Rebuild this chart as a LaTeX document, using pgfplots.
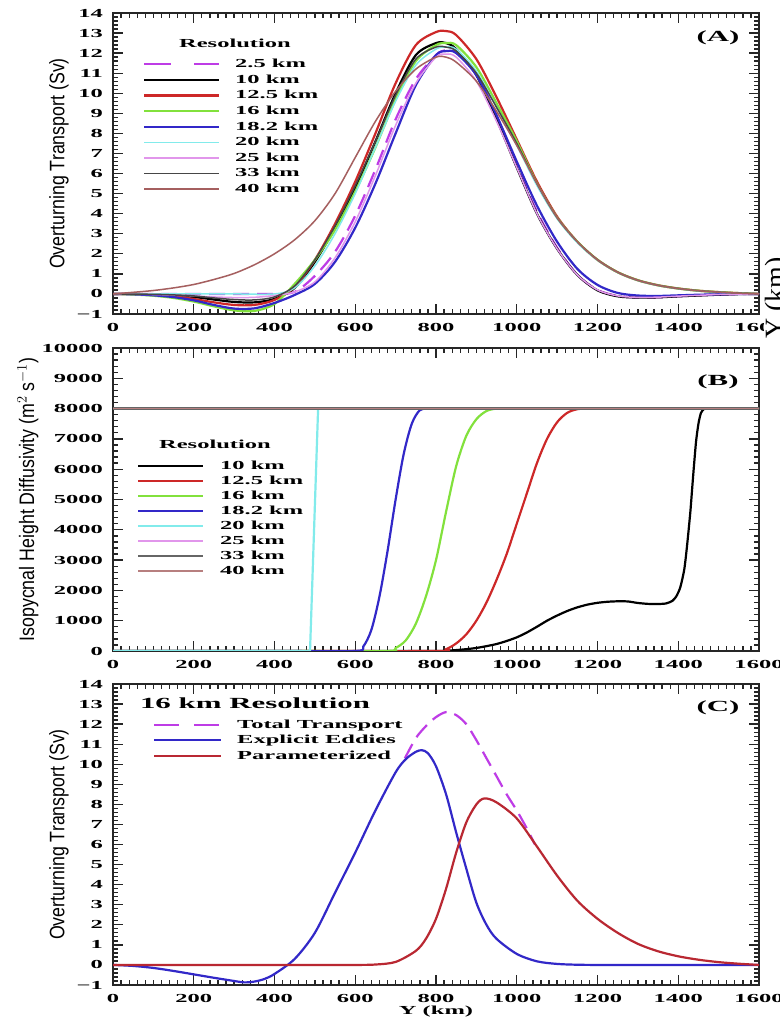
\documentclass[border=0pt]{standalone}
\usepackage{fontspec}
\usepackage{pgfplots}
\pgfplotsset{compat=1.18}
\newfontfamily\hfont[FakeStretch=2.0]{Liberation Serif}
\newfontfamily\lfont[FakeStretch=0.85]{Liberation Sans}
\newfontfamily\rfont{Liberation Serif}

\definecolor{cmag}{RGB}{190,60,230}
\definecolor{cred}{RGB}{205,40,40}
\definecolor{cgreen}{RGB}{130,225,60}
\definecolor{cblue}{RGB}{50,40,200}
\definecolor{ccyan}{RGB}{130,235,235}
\definecolor{cpink}{RGB}{225,150,235}
\definecolor{cdark}{RGB}{70,70,70}
\definecolor{cbrown}{RGB}{165,95,95}
\definecolor{cpred}{RGB}{185,40,50}

\pgfplotsset{
  myaxis/.style={
    scale only axis, width=646bp, anchor=south west,
    xmin=0, xmax=1600, xtick={0,200,...,1600}, minor x tick num=9,
    scaled y ticks=false, scaled x ticks=false,
    axis line style={line width=1.2bp, black!85},
    /pgf/number format/assume math mode=true,
    /pgf/number format/1000 sep={},
    tick label style={font=\hfont\bfseries\fontsize{12.3}{13}\selectfont, inner sep=0pt},
    xticklabel style={anchor=center, yshift=-13bp},
    yticklabel style={anchor=east, xshift=-10bp},
    ylabel style={font=\lfont\fontsize{21}{21}\selectfont, anchor=center},
    legend cell align=left,
    legend style={draw=none, fill=none, inner sep=0pt, outer sep=0pt, anchor=north west,
      font=\hfont\bfseries\fontsize{12.3}{12}\selectfont,
      nodes={inner sep=0pt, text height=8bp, text depth=1bp}},
    major tick length=10bp, minor tick length=5bp,
    every tick/.append style={line width=1.3bp, black!85},
    tick align=inside,
  },
  thk/.style={line width=2.2bp},
  thn/.style={line width=1.5bp},
}

\begin{document}
\begin{tikzpicture}
\useasboundingbox (0bp,0bp) rectangle (780bp,1021bp);
\fill[white] (0bp,0bp) rectangle (780bp,1021bp);

% ---------------- Panel A ----------------
\begin{axis}[myaxis, at={(113bp,707bp)}, height=301bp,
  ymin=-1, ymax=14, ytick={-1,0,...,14},
  yticklabels={−1,0,1,2,3,4,5,6,7,8,9,10,11,12,13,14},
  minor y tick num=4,
  ylabel={Overturning Transport (Sv)},
  ylabel style={at={(axis description cs:-0.0836,0.5)}},
  legend style={at={(0.0464,0.8445)}, row sep=6.6bp, column sep=15bp},
  legend image code/.code={\draw[#1] (0bp,0bp) -- (75bp,0bp);},
]
\addplot[cmag, thk, smooth, dash pattern=on 16bp off 8bp,
  legend image code/.code={\draw[cmag, line width=2.2bp, dash pattern=on 27bp off 23bp] (0bp,0bp) -- (75bp,0bp);}]
  coordinates {(0,0)(50,0)(100,0)(150,0)(200,0)(250,0)(300,0)(350,0)(400,0)(450,0.1)(500,0.9)(550,2.1)(600,3.9)(650,6.2)(700,8.7)(750,10.7)(800,11.9)(825,12.15)(850,12.1)(900,11.0)(950,8.9)(1000,6.4)(1050,4.1)(1100,2.3)(1150,0.95)(1200,0.2)(1250,-0.1)(1300,-0.18)(1350,-0.17)(1400,-0.12)(1450,-0.07)(1500,-0.03)(1550,-0.01)(1600,0)};
\addlegendentry{2.5 km}
\addplot[black, thk, smooth]
  coordinates {(0,0)(50,0)(100,-0.03)(150,-0.08)(200,-0.15)(250,-0.28)(300,-0.4)(350,-0.42)(400,-0.25)(450,0.3)(500,1.6)(550,3.3)(600,5.3)(650,7.6)(700,10.0)(750,11.9)(800,12.5)(825,12.5)(850,12.2)(900,10.9)(950,8.7)(1000,6.3)(1050,4.0)(1100,2.25)(1150,0.95)(1200,0.18)(1250,-0.12)(1300,-0.18)(1350,-0.17)(1400,-0.12)(1450,-0.08)(1500,-0.04)(1550,-0.01)(1600,0)};
\addlegendentry{10 km}
\addplot[cred, thk, smooth]
  coordinates {(0,0)(50,-0.01)(100,-0.05)(150,-0.12)(200,-0.25)(250,-0.42)(300,-0.55)(350,-0.55)(400,-0.3)(450,0.35)(500,1.7)(550,3.5)(600,5.6)(650,8.0)(700,10.5)(750,12.4)(800,13.05)(825,13.1)(850,12.9)(900,11.7)(950,9.8)(1000,7.7)(1050,5.6)(1100,3.85)(1150,2.6)(1200,1.7)(1250,1.08)(1300,0.68)(1350,0.43)(1400,0.27)(1450,0.16)(1500,0.09)(1550,0.04)(1600,0)};
\addlegendentry{12.5 km}
\addplot[cgreen, thk, smooth]
  coordinates {(0,0)(50,-0.03)(100,-0.09)(150,-0.2)(200,-0.38)(250,-0.62)(300,-0.82)(350,-0.85)(400,-0.5)(450,0.5)(500,1.7)(550,3.2)(600,5.1)(650,7.3)(700,9.7)(750,11.6)(800,12.4)(825,12.5)(850,12.4)(900,11.3)(950,9.5)(1000,7.6)(1050,5.5)(1100,3.8)(1150,2.6)(1200,1.7)(1250,1.08)(1300,0.68)(1350,0.43)(1400,0.27)(1450,0.16)(1500,0.09)(1550,0.04)(1600,0)};
\addlegendentry{16 km}
\addplot[cblue, thk, smooth]
  coordinates {(0,0)(50,-0.02)(100,-0.07)(150,-0.16)(200,-0.32)(250,-0.55)(300,-0.73)(350,-0.72)(400,-0.45)(450,-0.05)(500,0.5)(550,1.6)(600,3.3)(650,5.5)(700,8.0)(750,10.4)(800,11.9)(825,12.1)(850,12.0)(900,10.9)(950,8.9)(1000,6.6)(1050,4.4)(1100,2.6)(1150,1.25)(1200,0.45)(1250,0.05)(1300,-0.08)(1350,-0.1)(1400,-0.07)(1450,-0.04)(1500,-0.02)(1550,0)(1600,0)};
\addlegendentry{18.2 km}
\addplot[ccyan, thn, smooth]
  coordinates {(0,0)(100,0)(200,0)(300,0)(400,0)(450,0.3)(500,1.4)(550,3.0)(600,5.0)(650,7.3)(700,9.6)(750,11.4)(800,12.2)(825,12.3)(850,12.2)(900,11.1)(950,9.3)(1000,7.4)(1050,5.4)(1100,3.75)(1150,2.55)(1200,1.68)(1250,1.07)(1300,0.67)(1350,0.42)(1400,0.26)(1450,0.15)(1500,0.08)(1550,0.03)(1600,0)};
\addlegendentry{20 km}
\addplot[cpink, thn, smooth]
  coordinates {(0,0)(100,-0.03)(150,-0.06)(200,-0.1)(250,-0.15)(300,-0.18)(350,-0.17)(400,-0.08)(450,0.1)(500,0.6)(550,1.8)(600,3.6)(650,5.9)(700,8.4)(750,10.5)(800,11.8)(825,11.95)(850,11.8)(900,10.6)(950,8.6)(1000,6.3)(1050,4.0)(1100,2.25)(1150,0.95)(1200,0.2)(1250,-0.1)(1300,-0.17)(1350,-0.16)(1400,-0.11)(1450,-0.07)(1500,-0.03)(1550,-0.01)(1600,0)};
\addlegendentry{25 km}
\addplot[cdark, thn, smooth]
  coordinates {(0,0)(100,-0.02)(150,-0.05)(200,-0.1)(250,-0.2)(300,-0.28)(350,-0.3)(400,-0.15)(450,0.4)(500,1.7)(550,3.4)(600,5.4)(650,7.6)(700,9.9)(750,11.7)(800,12.3)(825,12.3)(850,12.1)(900,11.0)(950,9.3)(1000,7.5)(1050,5.5)(1100,3.8)(1150,2.6)(1200,1.7)(1250,1.08)(1300,0.68)(1350,0.43)(1400,0.27)(1450,0.16)(1500,0.09)(1550,0.04)(1600,0)};
\addlegendentry{33 km}
\addplot[cbrown, thn, smooth]
  coordinates {(0,0)(50,0.08)(100,0.17)(150,0.3)(200,0.47)(250,0.72)(300,1.02)(350,1.45)(400,2.0)(450,2.7)(500,3.65)(550,5.0)(600,6.8)(650,8.6)(700,10.1)(750,11.2)(800,11.8)(825,11.8)(850,11.55)(900,10.6)(950,9.1)(1000,7.4)(1050,5.5)(1100,3.8)(1150,2.6)(1200,1.7)(1250,1.08)(1300,0.68)(1350,0.43)(1400,0.27)(1450,0.16)(1500,0.09)(1550,0.04)(1600,0)};
\addlegendentry{40 km}
\end{axis}

% ---------------- Panel B ----------------
\begin{axis}[myaxis, at={(113bp,370bp)}, height=303bp,
  ymin=0, ymax=10000, ytick={0,1000,...,10000},
  minor y tick num=4,
  ylabel={Isopycnal Height Diffusivity (m$^{2}$ s$^{-1}$)},
  ylabel style={at={(axis description cs:-0.1316,0.5)}},
  legend style={at={(0.0372,0.6254)}, row sep=6bp, column sep=16bp},
  legend image code/.code={\draw[#1] (0bp,0bp) -- (65bp,0bp);},
]
\addplot[black, thk, smooth, tension=0.4]
  coordinates {(0,0)(400,0)(800,0)(825,10)(850,30)(875,60)(900,100)(925,160)(950,230)(975,330)(1000,450)(1025,610)(1050,800)(1075,1000)(1100,1170)(1125,1320)(1150,1440)(1175,1530)(1200,1590)(1225,1625)(1250,1640)(1275,1635)(1300,1585)(1325,1555)(1350,1550)(1370,1570)(1385,1650)(1395,1800)(1405,2100)(1415,2700)(1422,3500)(1430,4600)(1437,5800)(1444,6900)(1450,7500)(1456,7850)(1463,7980)(1470,8000)(1500,8000)(1600,8000)};
\addlegendentry{10 km}
\addplot[cred, thk, smooth]
  coordinates {(0,0)(400,0)(800,0)(825,60)(850,250)(875,550)(900,1000)(925,1600)(950,2350)(975,3200)(1000,4200)(1025,5200)(1050,6200)(1075,7000)(1100,7550)(1125,7860)(1150,7980)(1175,8000)(1200,8000)(1600,8000)};
\addlegendentry{12.5 km}
\addplot[cgreen, thk, smooth]
  coordinates {(0,0)(400,0)(675,0)(700,100)(725,350)(750,900)(775,1800)(800,3000)(825,4600)(850,6100)(875,7100)(900,7650)(925,7920)(950,8000)(975,8000)(1600,8000)};
\addlegendentry{16 km}
\addplot[cblue, thk, smooth]
  coordinates {(0,0)(400,0)(600,0)(620,150)(640,700)(660,1800)(680,3300)(700,5000)(720,6500)(740,7500)(760,7950)(780,8000)(800,8000)(1600,8000)};
\addlegendentry{18.2 km}
\addplot[ccyan, thk]
  coordinates {(0,0)(488,0)(498,4000)(508,8000)(1600,8000)};
\addlegendentry{20 km}
\addplot[cpink, thk]
  coordinates {(0,8000)(1600,8000)};
\addlegendentry{25 km}
\addplot[black!60, thk]
  coordinates {(0,8000)(1600,8000)};
\addlegendentry{33 km}
\addplot[cbrown!80, thn]
  coordinates {(0,8000)(1600,8000)};
\addlegendentry{40 km}
\end{axis}

% ---------------- Panel C ----------------
\begin{axis}[myaxis, at={(113bp,36bp)}, height=301bp,
  ymin=-1, ymax=14, ytick={-1,0,...,14},
  yticklabels={−1,0,1,2,3,4,5,6,7,8,9,10,11,12,13,14},
  minor y tick num=4,
  ylabel={Overturning Transport (Sv)},
  ylabel style={at={(axis description cs:-0.0836,0.5)}},
  xlabel={Y (km)},
  xlabel style={at={(axis description cs:0.5,-0.0897)}, anchor=center, font=\hfont\bfseries\fontsize{12.3}{12}\selectfont},
  legend style={at={(0.0619,0.880)}, row sep=6.5bp, column sep=15bp},
  legend image code/.code={\draw[#1] (0bp,0bp) -- (67bp,0bp);},
]
\addplot[cmag, thk, smooth, dash pattern=on 16bp off 8bp,
  legend image code/.code={\draw[cmag, line width=2.2bp, dash pattern=on 25bp off 15bp] (0bp,0bp) -- (67bp,0bp);}]
  coordinates {(723,10.3)(750,11.3)(775,11.9)(800,12.35)(825,12.6)(850,12.45)(875,12.0)(900,11.2)(925,10.3)(950,9.4)(975,8.5)(1000,7.7)(1025,6.8)(1045,6.0)};
\addlegendentry{Total Transport}
\addplot[cblue, thk, smooth]
  coordinates {(0,0)(50,-0.05)(100,-0.15)(150,-0.3)(200,-0.47)(250,-0.64)(300,-0.8)(325,-0.87)(350,-0.83)(375,-0.7)(400,-0.45)(450,0.3)(500,1.6)(550,3.6)(600,5.6)(650,7.7)(700,9.6)(725,10.25)(750,10.62)(765,10.7)(780,10.55)(800,9.9)(825,8.5)(850,6.6)(875,4.8)(900,3.1)(925,2.0)(950,1.3)(1000,0.55)(1050,0.18)(1100,0.05)(1150,0.01)(1200,0)(1300,0)(1400,0)(1500,0)(1600,0)};
\addlegendentry{Explicit Eddies}
\addplot[cpred, thk, smooth]
  coordinates {(0,0)(100,0)(200,0)(300,0)(400,0)(500,0)(600,0)(650,0.02)(700,0.15)(750,0.7)(775,1.3)(800,2.3)(825,3.8)(850,5.6)(875,7.1)(900,8.0)(920,8.3)(950,8.1)(1000,7.3)(1050,5.9)(1100,4.45)(1150,3.2)(1200,2.3)(1250,1.6)(1300,1.05)(1350,0.68)(1400,0.43)(1450,0.26)(1500,0.14)(1550,0.06)(1600,0)};
\addlegendentry{Parameterized}
\end{axis}

% titles and panel letters
\node[font=\hfont\bfseries\fontsize{12.3}{12}\selectfont] at (235bp,978bp) {Resolution};
\node[font=\hfont\bfseries\fontsize{12.3}{12}\selectfont] at (215bp,577bp) {Resolution};
\node[font=\hfont\bfseries\fontsize{15.5}{16}\selectfont] at (255bp,318bp) {16 km Resolution};
\node[font=\hfont\bfseries\fontsize{15.5}{16}\selectfont] at (718bp,983bp) {(A)};
\node[font=\hfont\bfseries\fontsize{15.5}{16}\selectfont] at (718bp,639bp) {(B)};
\node[font=\hfont\bfseries\fontsize{15.5}{16}\selectfont] at (718bp,313bp) {(C)};
\node[rotate=90, anchor=north west, fill=white, inner sep=1bp,
  font=\rfont\fontsize{28}{28}\selectfont] at (764bp,681bp) {Y (km)};
\end{tikzpicture}
\end{document}
